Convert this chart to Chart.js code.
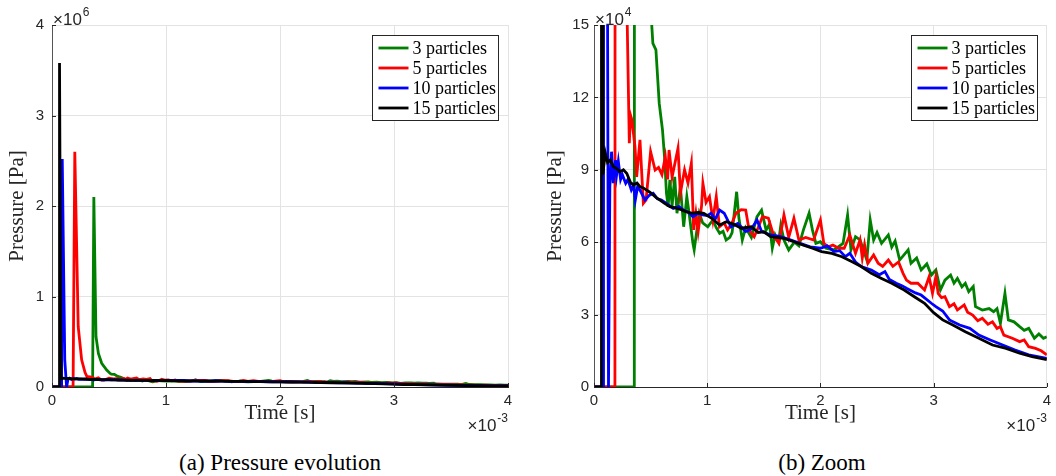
<!DOCTYPE html>
<html><head><meta charset="utf-8">
<script src="https://cdn.jsdelivr.net/npm/chart.js@4.4.0/dist/chart.umd.min.js"></script>
<style>
html,body{margin:0;padding:0;background:#fff;width:1056px;height:476px;overflow:hidden;}
#c1{position:absolute;left:0;top:0;}
#c2{position:absolute;left:528px;top:0;}
.cap{position:absolute;top:450px;font-family:"Liberation Serif","Times New Roman",serif;font-size:23px;color:#000;transform:translateX(-50%);white-space:nowrap;line-height:26px}
</style></head><body>
<canvas id="c1" width="528" height="440"></canvas>
<canvas id="c2" width="528" height="440"></canvas>
<div class="cap" style="left:280px">(a) Pressure evolution</div>
<div class="cap" style="left:822px">(b) Zoom</div>
<script>
// Time in units of 1e-3 s, pressure in Pa
const labels = ['3 particles', '5 particles', '10 particles', '15 particles'];
const colors = ['#008000', '#ff0000', '#0000ff', '#000000'];
const xTicks = [0, 1, 2, 3, 4];

const t3 = [0, 0.356, 0.367, 0.386, 0.407, 0.436, 0.48, 0.51, 0.52, 0.547,
  0.576, 0.605, 0.625, 0.64, 0.655, 0.67, 0.69, 0.713, 0.733, 0.763,
  0.792, 0.82, 0.84, 0.874, 0.885, 0.9, 0.93, 0.96, 1.005, 1.05,
  1.08, 1.11, 1.14, 1.167, 1.2, 1.22, 1.26, 1.28, 1.31, 1.34,
  1.39, 1.44, 1.48, 1.52, 1.55, 1.575, 1.6, 1.63, 1.65, 1.678,
  1.72, 1.77, 1.81, 1.85, 1.9, 1.93, 1.96, 2.0, 2.05, 2.12,
  2.2, 2.24, 2.27, 2.31, 2.35, 2.41, 2.44, 2.47, 2.5, 2.54,
  2.6, 2.63, 2.66, 2.7, 2.775, 2.8, 2.85, 2.89, 2.94, 2.98,
  3.02, 3.06, 3.1, 3.15, 3.18, 3.21, 3.25, 3.28, 3.31, 3.35,
  3.37, 3.43, 3.49, 3.53, 3.56, 3.59, 3.63, 3.66, 3.71, 3.76,
  3.8, 3.84, 3.89, 3.93, 3.97, 4.0];
const p3 = [0, 0, 2100000, 556000, 372000, 262000, 188000, 150000, 142400, 139700,
  117600, 106500, 94000, 80300, 74700, 85800, 75000, 87100, 72000, 83000,
  66400, 78900, 72000, 59500, 56800, 62000, 72000, 68000, 66400, 69200,
  66000, 63700, 64500, 60900, 62000, 64000, 80900, 70000, 60900, 66000,
  62000, 70600, 73300, 65000, 67500, 57500, 63000, 60000, 67000, 60900,
  56800, 60000, 58500, 65100, 72000, 65000, 59500, 60200, 57500, 56800,
  59500, 71300, 56800, 62300, 61000, 52600, 69200, 60900, 64000, 59500,
  63000, 58000, 60500, 52600, 56800, 51300, 53500, 48500, 51000, 46400,
  48500, 40200, 44300, 46400, 43000, 45000, 41500, 43000, 39500, 41600,
  33300, 31900, 32500, 31200, 32500, 26400, 38800, 27800, 27000, 25000,
  23500, 24300, 20200, 22000, 20200, 20800];

const t5 = [0, 0.185, 0.2, 0.23, 0.26, 0.29, 0.312, 0.322, 0.335, 0.362,
  0.377, 0.406, 0.436, 0.46, 0.5, 0.54, 0.57, 0.6, 0.63, 0.65,
  0.663, 0.69, 0.742, 0.763, 0.8, 0.83, 0.86, 0.88, 0.9, 0.92,
  0.95, 0.962, 0.99, 1.02, 1.05, 1.08, 1.108, 1.15, 1.18, 1.22,
  1.254, 1.3, 1.34, 1.37, 1.415, 1.45, 1.488, 1.54, 1.59, 1.634,
  1.678, 1.72, 1.766, 1.81, 1.87, 1.94, 2.0, 2.03, 2.07, 2.11,
  2.16, 2.21, 2.26, 2.31, 2.35, 2.37, 2.39, 2.42, 2.47, 2.51,
  2.55, 2.6, 2.64, 2.69, 2.73, 2.76, 2.8, 2.86, 2.92, 2.96,
  2.99, 3.02, 3.04, 3.07, 3.1, 3.14, 3.18, 3.21, 3.27, 3.3,
  3.345, 3.39, 3.43, 3.48, 3.52, 3.56, 3.59, 3.62, 3.695, 3.76,
  3.8, 3.84, 3.9, 3.95, 4.0];
const p5 = [0, 0, 2600000, 666000, 300000, 160000, 101000, 112700, 110600, 99600,
  87100, 102400, 76100, 77500, 97500, 89900, 91000, 88000, 95400, 86000,
  98200, 87000, 98900, 80300, 90000, 84500, 92700, 65100, 72000, 64400,
  75000, 84400, 76500, 78900, 69200, 78900, 66400, 68000, 65100, 68000,
  72000, 73500, 73300, 65100, 62300, 66000, 70600, 70000, 62300, 59500,
  71300, 62000, 69900, 60900, 62000, 60900, 69200, 59500, 58100, 58800,
  57500, 57500, 63000, 55400, 60900, 53500, 59000, 51300, 54700, 51300,
  50000, 52600, 50000, 51800, 47100, 44300, 43000, 43000, 40200, 45700,
  38800, 45700, 38800, 37000, 37400, 33300, 34500, 31900, 34000, 31000,
  29800, 27500, 28500, 26000, 27000, 24300, 25000, 21500, 20200, 18800,
  19500, 16700, 16000, 15000, 13300];

const t10 = [0, 0.084, 0.09, 0.112, 0.128, 0.14, 0.155, 0.17, 0.19, 0.2,
  0.215, 0.235, 0.25, 0.28, 0.3, 0.33, 0.35, 0.365, 0.385, 0.406,
  0.45, 0.49, 0.523, 0.56, 0.596, 0.64, 0.7, 0.75, 0.79, 0.83,
  0.874, 0.92, 0.96, 1.0, 1.035, 1.07, 1.11, 1.15, 1.21, 1.27,
  1.34, 1.39, 1.44, 1.48, 1.56, 1.65, 1.74, 1.82, 1.91, 2.0,
  2.06, 2.12, 2.17, 2.22, 2.26, 2.31, 2.36, 2.45, 2.52, 2.57,
  2.61, 2.67, 2.72, 2.76, 2.84, 2.89, 2.98, 3.02, 3.08, 3.14,
  3.23, 3.32, 3.4, 3.5, 3.61, 3.72, 3.84, 4.0];
const p10 = [0, 0, 2520000, 300000, 0, 83000, 97500, 84500, 94000, 88000,
  93400, 86000, 88000, 84400, 86000, 81600, 83500, 77500, 83000, 81600,
  77500, 79500, 80300, 78000, 77500, 76100, 74000, 74800, 73300, 72500,
  70600, 72000, 71300, 71000, 72000, 69500, 73300, 72000, 66400, 67800,
  64400, 65500, 69200, 64500, 63000, 62300, 60900, 59500, 58100, 57500,
  58500, 56100, 56500, 54000, 55400, 51800, 49900, 48500, 46500, 47800,
  44500, 43000, 42000, 40900, 39000, 38100, 34700, 33300, 31500, 27800,
  25700, 24300, 21500, 19500, 17400, 15300, 13300, 11900];

const t15 = [0, 0.062, 0.066, 0.078, 0.1, 0.12, 0.143, 0.172, 0.2, 0.23,
  0.26, 0.29, 0.32, 0.347, 0.38, 0.406, 0.435, 0.465, 0.49, 0.523,
  0.55, 0.58, 0.62, 0.67, 0.72, 0.77, 0.81, 0.87, 0.92, 0.97,
  1.04, 1.11, 1.17, 1.23, 1.3, 1.39, 1.45, 1.5, 1.56, 1.678,
  1.766, 1.85, 1.93, 2.01, 2.1, 2.19, 2.28, 2.36, 2.45, 2.54,
  2.63, 2.74, 2.83, 2.92, 3.0, 3.08, 3.17, 3.28, 3.4, 3.52,
  3.64, 3.76, 3.87, 4.0];
const p15 = [0, 0, 3580000, 88000, 97000, 93000, 94000, 91300, 90500, 89200,
  90000, 88500, 85000, 83700, 84500, 83000, 82500, 81600, 80800, 79600,
  78500, 77500, 76200, 74700, 74200, 73500, 72700, 72000, 72300, 72000,
  69900, 67100, 68500, 67500, 65800, 66400, 64000, 64300, 62300, 61600,
  60200, 58800, 57500, 56100, 55400, 54000, 51900, 49900, 47100, 45000,
  43000, 40200, 37400, 34700, 30800, 27800, 25700, 22900, 20200, 17400,
  16000, 14000, 12600, 11300];

const seriesT = [t3, t5, t10, t15];
const seriesP = [p3, p5, p10, p15];

function drawPow(ctx, x, baseline, exp, alignRight) {
  ctx.font = '17px "Liberation Sans"';
  const base = '\u00d710';
  const wb = ctx.measureText(base).width;
  ctx.font = '12px "Liberation Sans"';
  const we = ctx.measureText(exp).width;
  let x0 = alignRight ? x - wb - we - 1 : x;
  ctx.fillStyle = '#262626';
  ctx.textAlign = 'left';
  ctx.textBaseline = 'alphabetic';
  ctx.font = '17px "Liberation Sans"';
  ctx.fillText(base, x0, baseline);
  ctx.font = '12px "Liberation Sans"';
  ctx.fillText(exp, x0 + wb + 1, baseline - 9);
}

const extras = {
  id: 'extras',
  afterDraw(chart, args, o) {
    const ctx = chart.ctx, a = chart.chartArea;
    const xs = chart.scales.x, ys = chart.scales.y;
    ctx.save();
    ctx.strokeStyle = '#262626';
    ctx.lineWidth = 1;
    xs.ticks.forEach(t => {
      const px = Math.round(xs.getPixelForValue(t.value)) + 0.5;
      ctx.beginPath(); ctx.moveTo(px, a.bottom); ctx.lineTo(px, a.bottom - 4); ctx.stroke();
    });
    ys.ticks.forEach(t => {
      const py = Math.round(ys.getPixelForValue(t.value)) + 0.5;
      ctx.beginPath(); ctx.moveTo(a.left, py); ctx.lineTo(a.left + 4, py); ctx.stroke();
    });
    drawPow(ctx, a.left + 1, a.top, o.yExp, false);
    drawPow(ctx, a.right, a.bottom + 44, '-3', true);
    // legend box
    const bw = 126, bh = 85;
    const bx = Math.round(a.right - 10 - bw) + 0.5, by = Math.round(a.top + 10) + 0.5;
    ctx.fillStyle = '#ffffff';
    ctx.fillRect(bx, by, bw, bh);
    ctx.strokeStyle = '#262626';
    ctx.lineWidth = 1;
    ctx.strokeRect(bx, by, bw, bh);
    chart.data.datasets.forEach((ds, i) => {
      const y = by + 12.5 + 20 * i;
      ctx.strokeStyle = ds.borderColor;
      ctx.lineWidth = 2.8;
      ctx.beginPath(); ctx.moveTo(bx + 6, y); ctx.lineTo(bx + 36, y); ctx.stroke();
      ctx.fillStyle = '#000';
      ctx.font = '18px "Liberation Serif"';
      ctx.textAlign = 'left';
      ctx.textBaseline = 'middle';
      ctx.fillText(ds.label, bx + 40, y + 1);
    });
    ctx.restore();
  }
};

function makeChart(id, cfg) {
  const datasets = labels.map((lab, i) => ({
    label: lab,
    data: seriesT[i].map((t, j) => ({ x: t, y: seriesP[i][j] })),
    borderColor: colors[i],
    backgroundColor: colors[i],
    borderWidth: 2.8,
    pointRadius: 0,
    tension: 0,
    fill: false,
    order: 3 - i
  }));
  return new Chart(document.getElementById(id), {
    type: 'line',
    data: { datasets },
    options: {
      responsive: false,
      animation: false,
      devicePixelRatio: 1,
      layout: { padding: { top: 25, right: cfg.rightPad, left: 0, bottom: 0 } },
      plugins: { legend: { display: false }, tooltip: { enabled: false }, extras: { yExp: cfg.yExp } },
      scales: {
        x: {
          type: 'linear', min: 0, max: 4,
          afterBuildTicks(s) { s.ticks = xTicks.map(v => ({ value: v })); },
          ticks: { padding: 5, color: '#262626', font: { family: 'Liberation Sans', size: 15 }, callback: v => String(v), maxRotation: 0 },
          grid: { color: '#e3e3e3', drawTicks: false },
          border: { color: '#262626' },
          title: { display: true, text: 'Time [s]', color: '#262626', font: { family: 'Liberation Serif', size: 21 }, padding: { top: 0, bottom: 14 } },
          afterFit(s) { s.height = 53; }
        },
        y: {
          type: 'linear', min: 0, max: cfg.ymax,
          afterBuildTicks(s) { s.ticks = cfg.yTicks.map(v => ({ value: v })); },
          ticks: { padding: cfg.yTickPad, color: '#262626', font: { family: 'Liberation Sans', size: 15 }, callback: v => String(Math.round(v / cfg.yDiv)) },
          grid: { color: '#e3e3e3', drawTicks: false },
          border: { color: '#555555' },
          title: { display: true, text: 'Pressure [Pa]', color: '#262626', font: { family: 'Liberation Serif', size: 21 }, padding: { top: cfg.yTitlePad, bottom: 0 } },
          afterFit(s) { s.width = cfg.yAxisW; }
        }
      }
    },
    plugins: [extras]
  });
}

const yTicksA = [0, 1000000, 2000000, 3000000, 4000000];
const yTicksB = [0, 30000, 60000, 90000, 120000, 150000];

makeChart('c1', { ymax: 4000000, yTicks: yTicksA, yDiv: 1e6, yExp: '6', yAxisW: 52, rightPad: 20, yTickPad: 8, yTitlePad: 4.4 });
makeChart('c2', { ymax: 150000, yTicks: yTicksB, yDiv: 1e4, yExp: '4', yAxisW: 66, rightPad: 6, yTickPad: 5, yTitlePad: 14.4 });
</script>
</body></html>
